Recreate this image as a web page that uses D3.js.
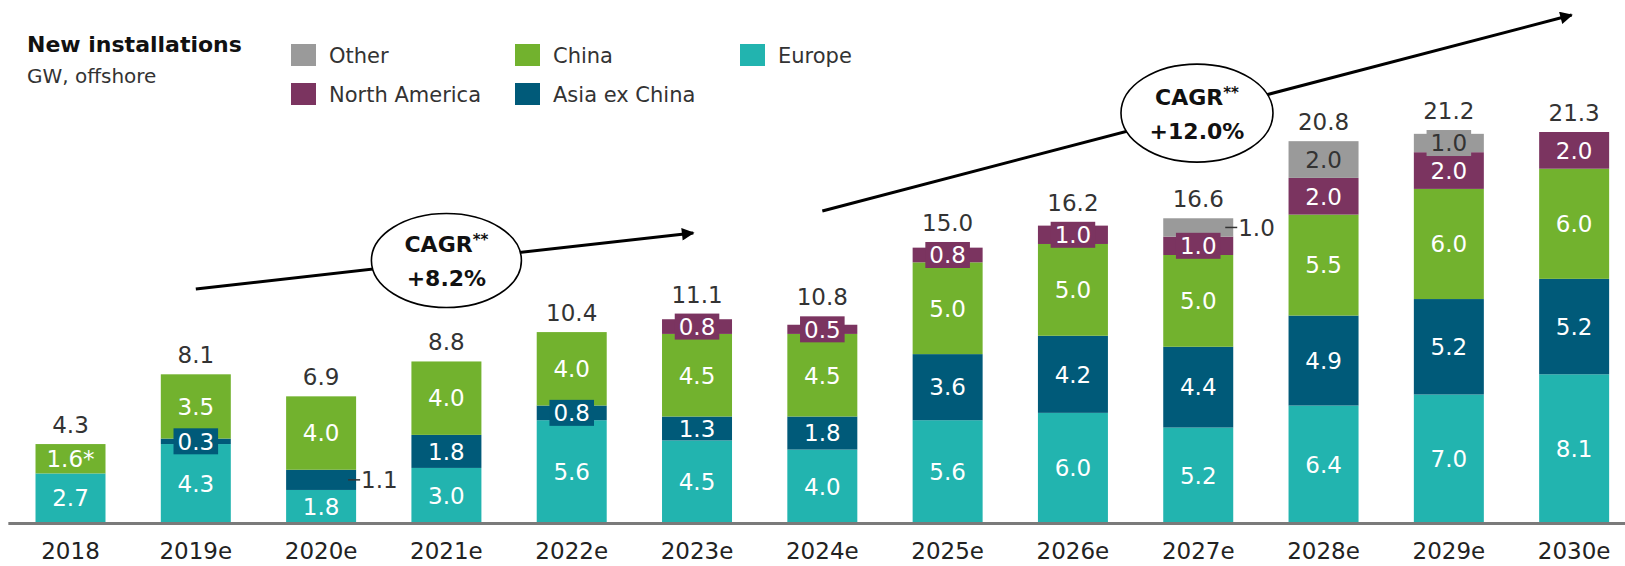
<!DOCTYPE html>
<html>
<head>
<meta charset="utf-8">
<script src="https://cdn.jsdelivr.net/npm/d3@7"></script>
<style>
  html, body { margin: 0; padding: 0; background: #fff; }
  svg { display: block; font-family: "DejaVu Sans", sans-serif; }
</style>
</head>
<body>
<svg id="chart" width="1625" height="566"></svg>
<script>
// ---- data ----
const categories = ["2018", "2019e", "2020e", "2021e", "2022e", "2023e", "2024e", "2025e", "2026e", "2027e", "2028e", "2029e", "2030e"];
const europe       = [2.7, 4.3, 1.8, 3.0, 5.6, 4.5, 4.0, 5.6, 6.0, 5.2, 6.4, 7.0, 8.1];
const asiaExChina  = [0.0, 0.3, 1.1, 1.8, 0.8, 1.3, 1.8, 3.6, 4.2, 4.4, 4.9, 5.2, 5.2];
const china        = [1.6, 3.5, 4.0, 4.0, 4.0, 4.5, 4.5, 5.0, 5.0, 5.0, 5.5, 6.0, 6.0];
const northAmerica = [0.0, 0.0, 0.0, 0.0, 0.0, 0.8, 0.5, 0.8, 1.0, 1.0, 2.0, 2.0, 2.0];
const other        = [0.0, 0.0, 0.0, 0.0, 0.0, 0.0, 0.0, 0.0, 0.0, 1.0, 2.0, 1.0, 0.0];
const totals       = [4.3, 8.1, 6.9, 8.8, 10.4, 11.1, 10.8, 15.0, 16.2, 16.6, 20.8, 21.2, 21.3];
const seriesNames  = ["Europe", "Asia ex China", "China", "North America", "Other"];
const legendOrder  = ["Other", "China", "Europe", "North America", "Asia ex China"];
const outsideLabels = [["2020e", "Asia ex China"], ["2027e", "Other"]];
const labelSuffix   = [["2018", "China", "*"]];
const cagrLabels    = ["+8.2%", "+12.0%"];

const colors = {
  "Europe": "#22b4af",
  "Asia ex China": "#005a79",
  "China": "#72b22e",
  "North America": "#7b3460",
  "Other": "#9a9a9a"
};
const darkText = { "Other": true };

const seriesValues = [europe, asiaExChina, china, northAmerica, other];
const table = categories.map((c, i) => {
  const row = { cat: c };
  seriesNames.forEach((s, k) => row[s] = seriesValues[k][i]);
  row.total = totals[i];
  return row;
});

// ---- layout ----
const svg = d3.select("#chart");
const x = d3.scaleBand().domain(categories).range([7.85, 1636.8]).paddingInner(0.4414).paddingOuter(0.2207);
const y = d3.scaleLinear().domain([0, 21.3]).range([523, 132]);
const bw = x.bandwidth();
const xi = d3.scaleLinear().domain([0, categories.length - 1])
  .range([x(categories[0]) + bw / 2, x(categories[categories.length - 1]) + bw / 2]);
const fmt = d3.format(".1f");

const stacked = d3.stack().keys(seriesNames)(table);

// annotations
const ann = svg.append("g");
const defs = svg.append("defs");
defs.append("marker").attr("id", "arrow").attr("viewBox", "0 0 10 10")
  .attr("refX", 9).attr("refY", 5).attr("markerWidth", 5).attr("markerHeight", 4.2)
  .attr("orient", "auto").attr("markerUnits", "strokeWidth")
  .append("path").attr("d", "M0,0 L10,5 L0,10 Z").attr("fill", "#000");

const cagrs = [
  { from: [1.0, 12.75], to: [4.97, 15.8], c: [3.0, 14.3], rx: 75, ry: 47, label: cagrLabels[0] },
  { from: [6.0, 17.0], to: [11.98, 27.67], c: [8.99, 22.33], rx: 76, ry: 49, label: cagrLabels[1] }
];
cagrs.forEach(a => {
  ann.append("line")
    .attr("x1", xi(a.from[0])).attr("y1", y(a.from[1]))
    .attr("x2", xi(a.to[0])).attr("y2", y(a.to[1]))
    .attr("stroke", "#000").attr("stroke-width", 3)
    .attr("marker-end", "url(#arrow)");
  const cx = xi(a.c[0]), cy = y(a.c[1]);
  ann.append("ellipse").attr("cx", cx).attr("cy", cy).attr("rx", a.rx).attr("ry", a.ry)
    .attr("fill", "#fff").attr("stroke", "#000").attr("stroke-width", 1.6);
  const t1 = ann.append("text").attr("x", cx).attr("y", cy - 8).attr("text-anchor", "middle")
    .attr("font-size", 22).attr("font-weight", "bold").attr("fill", "#111");
  t1.append("tspan").text("CAGR");
  t1.append("tspan").text("**").attr("font-size", 15).attr("dy", -7);
  ann.append("text").attr("x", cx).attr("y", cy + 26).attr("text-anchor", "middle")
    .attr("font-size", 22).attr("font-weight", "bold").attr("fill", "#111").text(a.label);
});

// bars
const barG = svg.append("g");
stacked.forEach(layer => {
  barG.selectAll(null).data(layer.filter(d => d[1] - d[0] > 0)).enter().append("rect")
    .attr("x", d => x(d.data.cat))
    .attr("width", bw)
    .attr("y", d => y(d[1]))
    .attr("height", d => y(d[0]) - y(d[1]))
    .attr("fill", colors[layer.key]);
});

// segment labels
const labG = svg.append("g");
const topBox = {};
stacked.forEach(layer => {
  layer.forEach(d => {
    const v = d[1] - d[0];
    if (v <= 0) return;
    const cat = d.data.cat;
    const cx = x(cat) + bw / 2;
    const cy = (y(d[0]) + y(d[1])) / 2;
    const isOutside = outsideLabels.some(o => o[0] === cat && o[1] === layer.key);
    const suf = labelSuffix.find(o => o[0] === cat && o[1] === layer.key);
    const txt = fmt(v) + (suf ? suf[2] : "");
    if (isOutside) {
      const xr = x(cat) + bw;
      labG.append("line").attr("x1", xr - 8).attr("x2", xr + 4).attr("y1", cy).attr("y2", cy)
        .attr("stroke", "#333").attr("stroke-width", 1.5);
      labG.append("text").attr("x", xr + 5).attr("y", cy).attr("dy", "0.36em")
        .attr("font-size", 23).attr("fill", "#333").text(txt);
      return;
    }
    const t = labG.append("text").attr("x", cx).attr("y", cy).attr("dy", "0.36em")
      .attr("text-anchor", "middle").attr("font-size", 23)
      .attr("fill", darkText[layer.key] ? "#333" : "#fff").text(txt);
    if (v <= 1.0) {
      const w = t.node().getComputedTextLength() + 8;
      const h = 26;
      labG.insert("rect", () => t.node())
        .attr("x", cx - w / 2).attr("y", cy - h / 2).attr("width", w).attr("height", h)
        .attr("fill", colors[layer.key]);
      const top = cy - h / 2;
      topBox[cat] = Math.min(topBox[cat] ?? Infinity, top);
    }
  });
});

// totals
svg.append("g").selectAll("text").data(table).enter().append("text")
  .attr("x", d => x(d.cat) + bw / 2)
  .attr("y", d => Math.min(y(d.total), topBox[d.cat] ?? Infinity) - 11)
  .attr("text-anchor", "middle").attr("font-size", 23).attr("fill", "#333")
  .text(d => fmt(d.total));

// x axis
const axG = svg.append("g").attr("transform", `translate(0,${y(0)})`)
  .call(d3.axisBottom(x).tickSize(0));
axG.select(".domain").attr("stroke", "#7a7a7a").attr("stroke-width", 3);
axG.selectAll("text").attr("y", 36).attr("dy", 0).attr("font-size", 23)
  .attr("font-family", "DejaVu Sans, sans-serif").attr("fill", "#222");

// title
svg.append("text").attr("x", 27).attr("y", 52).attr("font-size", 22).attr("font-weight", "bold")
  .attr("fill", "#111").text("New installations");
svg.append("text").attr("x", 27).attr("y", 83).attr("font-size", 20).attr("fill", "#333")
  .text("GW, offshore");

// legend
const legX = [291, 515, 740];
const legY = [44, 83];
const leg = svg.append("g");
legendOrder.forEach((name, i) => {
  const col = i % 3, row = Math.floor(i / 3);
  const g = leg.append("g").attr("transform", `translate(${legX[col]},${legY[row]})`);
  g.append("rect").attr("width", 25).attr("height", 22).attr("fill", colors[name]);
  g.append("text").attr("x", 38).attr("y", 11).attr("dy", "0.36em")
    .attr("font-size", 21).attr("fill", "#333").text(name);
});
</script>
</body>
</html>
